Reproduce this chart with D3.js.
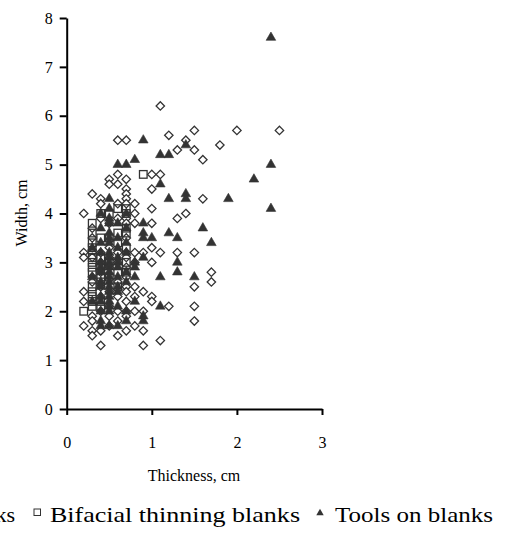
<!DOCTYPE html>
<html><head><meta charset="utf-8">
<script src="https://cdn.jsdelivr.net/npm/d3@7"></script>
<style>body{margin:0;background:#fff}svg{display:block}</style>
</head><body><svg id="c" width="505" height="537"></svg>
<script>
const xTicks=[0,1,2,3];
const yTicks=[0,1,2,3,4,5,6,7,8];
const seriesNames=["Flakes and blanks","Bifacial thinning blanks","Tools on blanks"];
const xTitle="Thickness, cm";
const yTitle="Width, cm";

const blanks=[
[0.2,4.0],[0.2,3.2],[0.2,3.1],[0.2,2.4],[0.2,2.2],[0.2,1.7],
[0.3,4.4],[0.3,3.7],[0.3,3.5],[0.3,3.2],[0.3,3.1],[0.3,2.7],[0.3,2.6],[0.3,1.9],[0.3,1.8],[0.3,1.6],[0.3,1.5],
[0.4,4.3],[0.4,4.2],[0.4,3.9],[0.4,3.2],[0.4,3.0],[0.4,2.8],[0.4,2.5],[0.4,2.3],[0.4,2.0],[0.4,1.6],[0.4,1.3],
[0.5,4.7],[0.5,4.6],[0.5,3.8],[0.5,3.3],[0.5,3.1],[0.5,2.9],[0.5,2.4],[0.5,2.1],[0.5,1.9],[0.5,1.7],
[0.6,5.5],[0.6,4.8],[0.6,4.6],[0.6,4.2],[0.6,3.9],[0.6,3.2],[0.6,3.0],[0.6,2.6],[0.6,2.3],[0.6,2.0],[0.6,1.8],[0.6,1.5],
[0.7,5.5],[0.7,4.7],[0.7,4.5],[0.7,4.4],[0.7,4.3],[0.7,4.2],[0.7,3.9],[0.7,3.8],[0.7,3.5],[0.7,3.2],[0.7,3.1],[0.7,2.9],[0.7,2.7],[0.7,2.5],[0.7,2.4],[0.7,2.2],[0.7,2.0],[0.7,1.9],[0.7,1.6],
[0.8,4.2],[0.8,4.0],[0.8,3.8],[0.8,3.2],[0.8,3.0],[0.8,2.5],[0.8,2.3],[0.8,2.0],[0.8,1.7],
[0.9,3.2],[0.9,2.4],[0.9,2.0],[0.9,1.6],[0.9,1.3],
[1.0,4.8],[1.0,4.5],[1.0,4.1],[1.0,3.8],[1.0,3.3],[1.0,3.0],[1.0,2.3],[1.0,2.2],
[1.1,6.2],[1.1,4.8],[1.1,3.2],[1.1,1.4],
[1.2,5.6],[1.2,2.1],
[1.3,5.3],[1.3,3.9],[1.3,3.2],
[1.4,5.5],[1.4,4.0],
[1.5,5.7],[1.5,5.3],[1.5,3.2],[1.5,2.5],[1.5,2.1],[1.5,1.8],
[1.6,5.1],[1.6,4.3],
[1.7,2.8],[1.7,2.6],
[1.8,5.4],[2.0,5.7],[2.5,5.7]
];

const bifacial=[
[0.2,2.0],
[0.3,3.8],[0.3,3.6],[0.3,3.4],[0.3,3.3],[0.3,3.1],[0.3,3.0],[0.3,2.9],[0.3,2.8],[0.3,2.5],[0.3,2.4],[0.3,2.3],[0.3,2.2],[0.3,2.1],
[0.4,4.0],[0.4,3.5],[0.4,3.1],[0.4,2.9],[0.4,2.7],[0.4,2.6],[0.4,2.2],[0.4,2.1],
[0.5,4.0],[0.5,3.5],[0.5,3.0],[0.5,2.7],
[0.6,4.1],[0.6,3.6],[0.6,3.4],[0.6,2.8],[0.6,2.5],
[0.7,4.1],[0.7,4.0],[0.7,3.7],[0.7,3.6],[0.7,3.3],[0.7,3.0],[0.7,2.8],
[0.9,4.8]
];

const tools=[
[0.3,3.3],[0.3,2.7],[0.3,2.2],
[0.4,4.0],[0.4,3.7],[0.4,3.4],[0.4,3.2],[0.4,3.0],[0.4,2.9],[0.4,2.8],[0.4,2.6],[0.4,2.5],[0.4,2.3],[0.4,2.2],[0.4,2.0],[0.4,1.8],[0.4,1.7],
[0.5,4.3],[0.5,4.1],[0.5,3.9],[0.5,3.8],[0.5,3.6],[0.5,3.5],[0.5,3.4],[0.5,3.2],[0.5,3.1],[0.5,3.0],[0.5,2.9],[0.5,2.8],[0.5,2.7],[0.5,2.6],[0.5,2.5],[0.5,2.4],[0.5,2.3],[0.5,2.2],[0.5,2.1],[0.5,2.0],[0.5,1.7],
[0.6,5.0],[0.6,3.8],[0.6,3.5],[0.6,3.3],[0.6,3.1],[0.6,3.0],[0.6,2.9],[0.6,2.7],[0.6,2.5],[0.6,2.4],[0.6,2.1],[0.6,1.7],
[0.7,5.0],[0.7,4.0],[0.7,3.7],[0.7,3.4],[0.7,3.2],[0.7,2.8],[0.7,2.6],[0.7,2.0],[0.7,1.8],
[0.8,5.1],[0.8,3.0],[0.8,2.9],[0.8,2.7],[0.8,2.2],
[0.9,5.5],[0.9,3.8],[0.9,3.6],[0.9,3.5],[0.9,3.1],[0.9,1.9],[0.9,1.8],
[1.0,3.5],
[1.1,5.2],[1.1,4.6],[1.1,2.7],[1.1,2.1],
[1.2,5.2],[1.2,4.3],[1.2,3.6],
[1.3,3.5],[1.3,3.0],[1.3,2.8],
[1.4,5.4],[1.4,4.4],[1.4,4.3],
[1.5,2.7],[1.6,3.7],[1.7,3.4],[1.9,4.3],[2.2,4.7],
[2.4,7.6],[2.4,5.0],[2.4,4.1]
];

const svg=d3.select("#c");
const font="'Liberation Serif','Times New Roman',serif";
const x=d3.scaleLinear().domain([0,3]).range([66.7,322]);
const y=d3.scaleLinear().domain([0,8]).range([409,18]);

const gx=svg.append("g").attr("transform","translate(0,409)")
  .call(d3.axisBottom(x).tickValues(xTicks).tickFormat(d3.format("d")).tickSize(6).tickSizeOuter(0).tickPadding(22));
const gy=svg.append("g").attr("transform","translate(66.7,0)")
  .call(d3.axisLeft(y).tickValues(yTicks).tickFormat(d3.format("d")).tickSize(7).tickSizeOuter(0).tickPadding(7));
[gx,gy].forEach(g=>{
  g.selectAll("path,line").attr("stroke","#000").attr("stroke-width",2);
  g.selectAll("text").attr("font-family",font).attr("font-size",16).attr("fill","#000");
});

// markers (drawn in series order: blanks, bifacial, tools)
svg.append("g").selectAll("path").data(blanks).join("path")
  .attr("d",d=>{const cx=x(d[0]),cy=y(d[1]),r=4.2;return `M${cx},${cy-r}L${cx+r},${cy}L${cx},${cy+r}L${cx-r},${cy}Z`;})
  .attr("fill","#fff").attr("stroke","#333").attr("stroke-width",1.3);
svg.append("g").selectAll("rect").data(bifacial).join("rect")
  .attr("x",d=>x(d[0])-3.8).attr("y",d=>y(d[1])-3.8).attr("width",7.6).attr("height",7.6)
  .attr("fill","none").attr("stroke","#333").attr("stroke-width",1.3);
const tri=d3.symbol().type(d3.symbolTriangle).size(40);
svg.append("g").selectAll("path").data(tools).join("path")
  .attr("d",tri).attr("transform",d=>`translate(${x(d[0])},${y(d[1])})`)
  .attr("fill","#333").attr("stroke","#333").attr("stroke-width",0.6);

// titles
svg.append("text").attr("x",194).attr("y",481).attr("text-anchor","middle")
  .attr("font-family",font).attr("font-size",16).text(xTitle);
svg.append("text").attr("transform","translate(27,213) rotate(-90)").attr("text-anchor","middle")
  .attr("font-family",font).attr("font-size",16).text(yTitle);

// legend
const lg=svg.append("g").attr("font-family",font).attr("font-size",22);
lg.append("text").attr("x",15).attr("y",522).attr("text-anchor","end").text(seriesNames[0]);
lg.append("rect").attr("x",34).attr("y",509).attr("width",6.5).attr("height",6.5)
  .attr("fill","#fff").attr("stroke","#333").attr("stroke-width",1);
lg.append("text").attr("x",50).attr("y",522).attr("textLength",250).attr("lengthAdjust","spacingAndGlyphs").text(seriesNames[1]);
lg.append("path").attr("d",d3.symbol().type(d3.symbolTriangle).size(24)).attr("transform","translate(320,513)").attr("fill","#333");
lg.append("text").attr("x",335).attr("y",522).attr("textLength",158).attr("lengthAdjust","spacingAndGlyphs").text(seriesNames[2]);
</script></body></html>
